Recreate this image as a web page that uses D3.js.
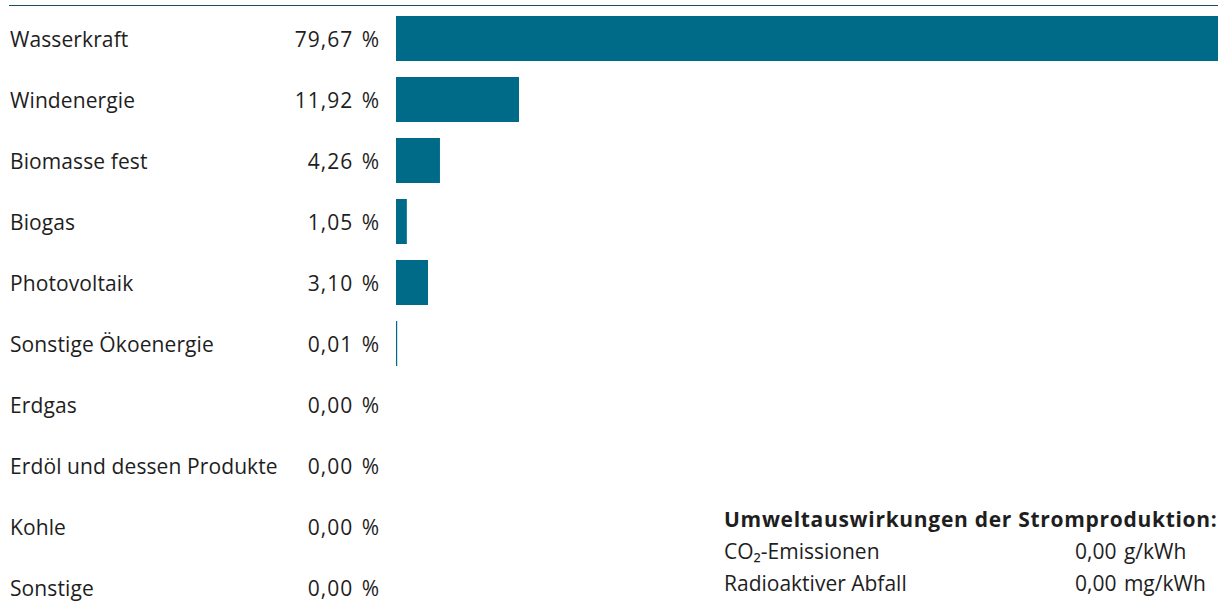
<!DOCTYPE html>
<html>
<head>
<meta charset="utf-8">
<script src="https://cdn.jsdelivr.net/npm/d3@7"></script>
<style>
  body { margin: 0; background: #fff; }
  text { font-family: "Open Sans", sans-serif; fill: #1e1e1e; }
</style>
</head>
<body>
<div id="chart"></div>
<script>
var categories = ["Wasserkraft", "Windenergie", "Biomasse fest", "Biogas", "Photovoltaik",
    "Sonstige Ökoenergie", "Erdgas", "Erdöl und dessen Produkte", "Kohle", "Sonstige"];
var shares = [79.67, 11.92, 4.26, 1.05, 3.10, 0.01, 0.00, 0.00, 0.00, 0.00];
var impactLabels = ["CO₂-Emissionen", "Radioaktiver Abfall"];
var impactValues = ["0,00 g/kWh", "0,00 mg/kWh"];

var svgWidth = 1222;
var svgHeight = 610;
var fontSize = "21px";

var svg = d3.select("#chart")
    .append("svg")
    .attr("width", svgWidth)
    .attr("height", svgHeight);

// top rule
svg.append("line")
    .attr("x1", 9).attr("x2", 1218)
    .attr("y1", 5.5).attr("y2", 5.5)
    .attr("stroke", "#1b4d5c")
    .attr("stroke-width", 1.2);

var yScale = d3.scaleBand()
    .domain(categories)
    .range([8, 8 + 61 * categories.length])
    .paddingInner(16 / 61)
    .paddingOuter(8 / 61);

var xScale = d3.scaleLinear()
    .domain([0, 79.67])
    .range([396, 1218]);

var fmt = function (v) { return d3.format(".2f")(v).replace(".", ",") + " %"; };

var rows = categories.map(function (c, i) { return { name: c, value: shares[i] }; });

svg.selectAll("rect.bar")
    .data(rows.filter(function (d) { return d.value > 0; }))
    .enter()
    .append("rect")
    .attr("class", "bar")
    .attr("x", xScale(0))
    .attr("y", d => yScale(d.name))
    .attr("width", d => Math.max(1.2, xScale(d.value) - xScale(0)))
    .attr("height", yScale.bandwidth())
    .attr("fill", "#006a89");

svg.selectAll("text.cat")
    .data(rows)
    .enter()
    .append("text")
    .attr("class", "cat")
    .attr("x", 10)
    .attr("y", d => yScale(d.name) + yScale.bandwidth() / 2 + 8)
    .style("font-size", fontSize)
    .style("letter-spacing", "0.1px")
    .text(d => d.name);

svg.selectAll("text.val")
    .data(rows)
    .enter()
    .append("text")
    .attr("class", "val")
    .attr("x", 380)
    .attr("y", d => yScale(d.name) + yScale.bandwidth() / 2 + 8)
    .attr("text-anchor", "end")
    .style("font-size", fontSize)
    .style("letter-spacing", "1px")
    .style("word-spacing", "2px")
    .text(d => fmt(d.value));

// environmental impact box
svg.append("text")
    .attr("x", 724)
    .attr("y", 527)
    .style("font-size", fontSize)
    .style("font-weight", "bold")
    .style("letter-spacing", "0.7px")
    .text("Umweltauswirkungen der Stromproduktion:");

impactLabels.forEach(function (label, i) {
    svg.append("text")
        .attr("x", 724)
        .attr("y", 559 + i * 32)
        .style("font-size", fontSize)
        .text(label);
    svg.append("text")
        .attr("x", 1075)
        .attr("y", 559 + i * 32)
        .style("font-size", fontSize)
        .style("word-spacing", "2px")
        .text(impactValues[i]);
});
</script>
</body>
</html>
